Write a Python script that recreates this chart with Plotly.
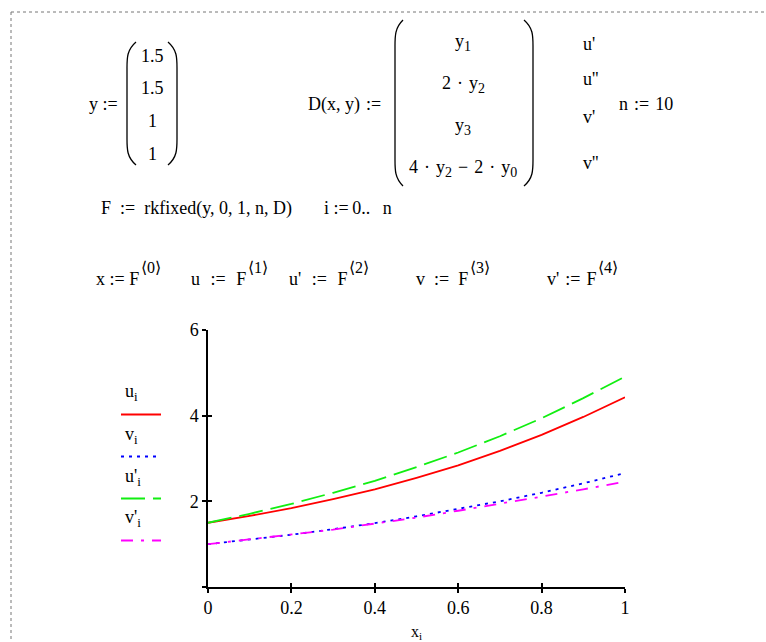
import plotly.graph_objects as go

# ---- data ----
x_vals = [0.0, 0.1, 0.2, 0.3, 0.4, 0.5, 0.6, 0.7, 0.8, 0.9, 1.0]
u_vals = [1.5, 1.66, 1.84, 2.05, 2.28, 2.55, 2.84, 3.18, 3.55, 3.97, 4.43]
v_vals = [1.0, 1.11, 1.22, 1.35, 1.49, 1.65, 1.82, 2.00, 2.20, 2.42, 2.66]
du_vals = [1.5, 1.71, 1.94, 2.20, 2.48, 2.80, 3.14, 3.52, 3.94, 4.41, 4.91]
dv_vals = [1.0, 1.11, 1.22, 1.34, 1.48, 1.62, 1.78, 1.94, 2.11, 2.28, 2.46]

x_tickvals = [0, 0.2, 0.4, 0.6, 0.8, 1]
x_ticktext = ["0", "0.2", "0.4", "0.6", "0.8", "1"]
y_tickvals = [0, 2, 4, 6]
y_ticktext = ["", "2", "4", "6"]

series_labels = ["u<sub>i</sub>", "v<sub>i</sub>", "u'<sub>i</sub>", "v'<sub>i</sub>"]
series_data = [u_vals, v_vals, du_vals, dv_vals]
series_colors = ["#ff0000", "#0000ff", "#11ee11", "#ff00ff"]
series_dash = ["solid", "3px,5px", "24px,8px", "12px,8px,3px,8px"]

W, H = 766, 642
FONT = "Liberation Serif, Times New Roman, serif"
FS = 18


def px(x):
    return x / W


def py(y):
    return 1 - y / H


def sub(t, size=14):
    return '<sub><span style="font-size:%dpx">%s</span></sub>' % (size, t)


fig = go.Figure()
for i, (lab, ys, col, dash) in enumerate(zip(series_labels, series_data, series_colors, series_dash)):
    fig.add_trace(go.Scatter(
        x=x_vals, y=ys, mode="lines", name=" ",
        line=dict(color=col, width=1.8, dash=dash),
        legendgroup="g%d" % i,
        hoverinfo="x+y",
    ))

# invisible trace to carry the overlay axes (inward half of the crossing ticks)
fig.add_trace(go.Scatter(x=x_vals, y=u_vals, xaxis="x2", yaxis="y2", mode="lines",
                         line=dict(width=0), opacity=0, showlegend=False, hoverinfo="skip"))

axis_common = dict(showgrid=False, zeroline=False, showline=True, linecolor="black",
                   linewidth=1.5, tickcolor="black", tickwidth=1.5, ticklen=4, automargin=False,
                   tickfont=dict(family=FONT, size=FS, color="black"))

fig.update_layout(
    width=W, height=H,
    margin=dict(l=0, r=0, t=0, b=0, pad=0, autoexpand=False),
    paper_bgcolor="white", plot_bgcolor="white",
    xaxis=dict(domain=[px(208), px(625)], range=[0, 1], tickvals=x_tickvals, ticktext=x_ticktext,
               ticks="outside", anchor="y",
               title=dict(text="x<sub>i</sub>", font=dict(family=FONT, size=16, color="black"), standoff=10),
               **axis_common),
    yaxis=dict(domain=[py(587), py(330)], range=[0, 6], tickvals=y_tickvals, ticktext=y_ticktext,
               ticks="outside", anchor="x", **axis_common),
    xaxis2=dict(overlaying="x", range=[0, 1], tickvals=x_tickvals, ticks="inside", showticklabels=False,
                anchor="y2", side="bottom", **axis_common),
    yaxis2=dict(overlaying="y", range=[0, 6], tickvals=y_tickvals, ticks="inside", showticklabels=False,
                anchor="x2", side="left", **axis_common),
    legend=dict(x=px(116), y=py(400), xanchor="left", yanchor="top", traceorder="grouped",
                tracegroupgap=23, itemwidth=40, bgcolor="rgba(0,0,0,0)",
                font=dict(family=FONT, size=11, color="black")),
    showlegend=True,
)

annotations = []


def ann(text, x, y, xanchor="left", yanchor="middle", size=FS):
    annotations.append(dict(text=text, x=px(x), y=py(y), xref="paper", yref="paper",
                            xanchor=xanchor, yanchor=yanchor, showarrow=False,
                            font=dict(family=FONT, size=size, color="black")))


S = " \u200a"      # slightly wider operator spacing
EN = "\u2002"      # en space
ENH = "\u2002\u200a"

# y vector
ann("y :=", 87, 104)
for txt, yy in [("1.5", 56), ("1.5", 88), ("1", 121), ("1", 154)]:
    ann(txt, 152, yy, xanchor="center")

# D(x, y)
ann("D(x, y)" + S + ":=", 306, 105)
for txt, yy in [("y" + sub("1"), 42), ("2" + S + "·" + S + "y" + sub("2"), 84), ("y" + sub("3"), 126),
                ("4" + S + "·" + S + "y" + sub("2") + S + "−" + S + "2" + S + "·" + S + "y" + sub("0"), 169)]:
    ann(txt, 463, yy, xanchor="center")

for txt, yy in [("u'", 44), ("u''", 79), ("v'", 117), ("v''", 163)]:
    ann(txt, 581, yy)
ann("n" + S + ":=" + S + "10", 617, 104)

ann("F" + EN + ":=" + EN + "rkfixed(y, 0, 1, n, D)", 99, 208)
ann("i :=\u20090..\u2002\u2009n", 322, 208)

# x := F<0> ... (column superscripts); base text ends where the superscript starts
for base, supt, xe in [("x := F", "⟨0⟩", 140), ("u" + ENH + ":=" + ENH + "F", "⟨1⟩", 247),
                       ("u'" + ENH + ":=" + ENH + "F", "⟨2⟩", 348), ("v" + EN + ":=" + EN + "F", "⟨3⟩", 469),
                       ("v'" + "\u2004:=\u2004" + "F", "⟨4⟩", 597)]:
    ann(base, xe + 1, 279, xanchor="right")
    ann(supt, xe - 1, 267, size=16)

# legend labels
for lab, yy in zip(series_labels, [392, 435, 477, 518]):
    ann(lab.replace("<sub>i</sub>", sub("i", 13)), 123, yy)

fig.update_layout(annotations=annotations)

# parentheses and page border
shapes = []


def paren(outer, inner, top, bot):
    c = 26
    p = "M %f,%f C %f,%f %f,%f %f,%f L %f,%f C %f,%f %f,%f %f,%f" % (
        px(inner), py(top),
        px(outer), py(top + c * 0.3), px(outer), py(top + c * 0.6), px(outer), py(top + c),
        px(outer), py(bot - c),
        px(outer), py(bot - c * 0.6), px(outer), py(bot - c * 0.3), px(inner), py(bot))
    shapes.append(dict(type="path", path=p, xref="paper", yref="paper",
                       line=dict(color="black", width=1.3)))


paren(127, 136, 42, 165)
paren(177, 168, 42, 165)
paren(395, 403, 20, 186)
paren(533, 524, 20, 186)

shapes.append(dict(type="line", xref="paper", yref="paper", x0=px(11), x1=px(11), y0=py(12), y1=0,
                   line=dict(color="#777777", width=1, dash="dot")))
shapes.append(dict(type="line", xref="paper", yref="paper", x0=px(11), x1=1, y0=py(12), y1=py(12),
                   line=dict(color="#777777", width=1, dash="dot")))
fig.update_layout(shapes=shapes)

fig.write_html(
    "out.html",
    config={"displayModeBar": False},
    post_script="document.body.style.margin='0';document.body.style.overflow='hidden';",
)
